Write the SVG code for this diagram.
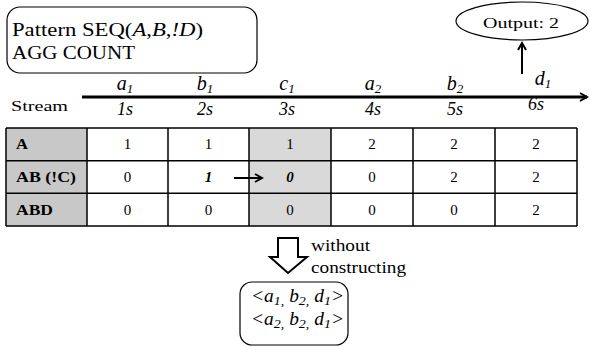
<svg xmlns="http://www.w3.org/2000/svg" width="590" height="347" viewBox="0 0 590 347">
<style>
text{font-family:"Liberation Serif","Times New Roman",serif;fill:#000}
.big{font-size:18px}
.ev{font-size:20px;font-style:italic;text-anchor:middle}
.sub{font-size:13px}
.tm{font-size:18px;font-style:italic;text-anchor:middle}
.val{font-size:15px;text-anchor:middle}
.hdr{font-size:15px;font-weight:bold}
.note{font-size:16px}
.box{fill:#fff;stroke:#000;stroke-width:1.2}
.g1{fill:#c8c8c8}
.g2{fill:#d9d9d9}
.ln{stroke:#000;fill:none}
</style>
<defs>
<marker id="ah" markerWidth="10" markerHeight="10" refX="8" refY="5" orient="auto" markerUnits="userSpaceOnUse">
<path d="M1,1 L8,5 L1,9" fill="none" stroke="#000" stroke-width="2"/>
</marker>
</defs>
<g id="pattern">
<rect class="box" x="7" y="7" width="250" height="66" rx="13"/>
<text class="big" x="12" y="36" textLength="191" lengthAdjust="spacingAndGlyphs">Pattern SEQ(<tspan font-style="italic">A</tspan>,<tspan font-style="italic">B</tspan>,<tspan font-style="italic">!D</tspan>)</text>
<text class="big" x="12" y="59" textLength="123" lengthAdjust="spacingAndGlyphs">AGG COUNT</text>
</g>
<g id="output">
<ellipse class="box" cx="522" cy="21" rx="66" ry="19"/>
<text x="483" y="28" font-size="15" textLength="76" lengthAdjust="spacingAndGlyphs">Output: 2</text>
</g>
<g id="stream">
<text x="11" y="111" font-size="14" textLength="57" lengthAdjust="spacingAndGlyphs">Stream</text>
<text class="ev" x="125" y="90">a<tspan class="sub" dy="3">1</tspan></text>
<text class="ev" x="205" y="90">b<tspan class="sub" dy="3">1</tspan></text>
<text class="ev" x="287" y="90">c<tspan class="sub" dy="3">1</tspan></text>
<text class="ev" x="373" y="90">a<tspan class="sub" dy="3">2</tspan></text>
<text class="ev" x="455" y="90">b<tspan class="sub" dy="3">2</tspan></text>
<text class="ev" x="543" y="85">d<tspan class="sub" dy="3">1</tspan></text>
<text class="tm" x="125" y="115">1s</text>
<text class="tm" x="205" y="115">2s</text>
<text class="tm" x="287" y="115">3s</text>
<text class="tm" x="373" y="115">4s</text>
<text class="tm" x="455" y="115">5s</text>
<text class="tm" x="536" y="110">6s</text>
</g>
<g id="table">
<rect class="g1" x="6" y="128" width="81" height="98"/>
<rect class="g2" x="249" y="128" width="82" height="98"/>
<path class="ln" stroke-width="1.5" d="M6,128H577M6,160.7H577M6,193.3H577M6,226H577M6,128V226M87,128V226M168,128V226M249,128V226M331,128V226M413,128V226M495,128V226M577,128V226"/>
<text class="hdr" x="16" y="149" textLength="12" lengthAdjust="spacingAndGlyphs">A</text>
<text class="hdr" x="16" y="182" textLength="60" lengthAdjust="spacingAndGlyphs">AB (!C)</text>
<text class="hdr" x="16" y="215" textLength="37" lengthAdjust="spacingAndGlyphs">ABD</text>
<text class="val" x="127.5" y="149">1</text>
<text class="val" x="208.5" y="149">1</text>
<text class="val" x="290" y="149">1</text>
<text class="val" x="372" y="149">2</text>
<text class="val" x="454" y="149">2</text>
<text class="val" x="536" y="149">2</text>
<text class="val" x="127.5" y="182">0</text>
<text class="val" x="208.5" y="182" font-weight="bold" font-style="italic">1</text>
<text class="val" x="290" y="182" font-weight="bold" font-style="italic">0</text>
<text class="val" x="372" y="182">0</text>
<text class="val" x="454" y="182">2</text>
<text class="val" x="536" y="182">2</text>
<text class="val" x="127.5" y="215">0</text>
<text class="val" x="208.5" y="215">0</text>
<text class="val" x="290" y="215">0</text>
<text class="val" x="372" y="215">0</text>
<text class="val" x="454" y="215">0</text>
<text class="val" x="536" y="215">2</text>
</g>
<g id="connectors">
<line class="ln" x1="82" y1="97" x2="587" y2="97" stroke-width="3" marker-end="url(#ah)"/>
<line class="ln" x1="522" y1="74" x2="522" y2="43" stroke-width="2" marker-end="url(#ah)"/>
<line class="ln" x1="234" y1="178" x2="262" y2="178" stroke-width="2" marker-end="url(#ah)"/>
<polygon points="278,238 298,238 298,257 307,257 288,273 270,257 278,257" fill="#fff" stroke="#000" stroke-width="2"/>
</g>
<g id="note">
<text class="note" x="311" y="251" textLength="59" lengthAdjust="spacingAndGlyphs">without</text>
<text class="note" x="311" y="273" textLength="95" lengthAdjust="spacingAndGlyphs">constructing</text>
</g>
<g id="results">
<rect class="box" x="240" y="282" width="108" height="63" rx="12"/>
<text x="251" y="302" font-size="18" font-style="italic" textLength="93" lengthAdjust="spacingAndGlyphs">&lt;a<tspan class="sub" dy="3">1,</tspan><tspan dy="-3"> b</tspan><tspan class="sub" dy="3">2,</tspan><tspan dy="-3"> d</tspan><tspan class="sub" dy="3">1</tspan><tspan dy="-3">&gt;</tspan></text>
<text x="251" y="325" font-size="18" font-style="italic" textLength="93" lengthAdjust="spacingAndGlyphs">&lt;a<tspan class="sub" dy="3">2,</tspan><tspan dy="-3"> b</tspan><tspan class="sub" dy="3">2,</tspan><tspan dy="-3"> d</tspan><tspan class="sub" dy="3">1</tspan><tspan dy="-3">&gt;</tspan></text>
</g>
</svg>
